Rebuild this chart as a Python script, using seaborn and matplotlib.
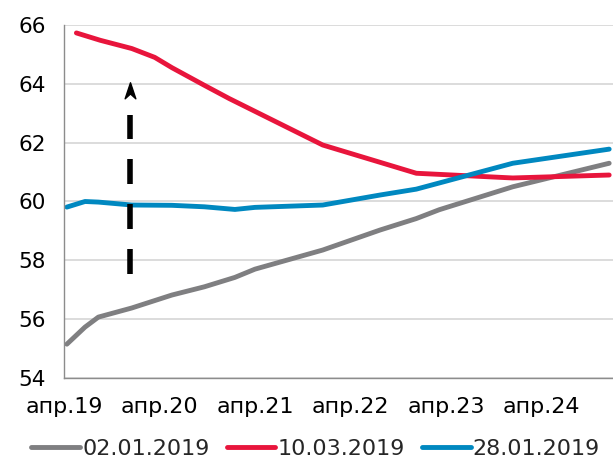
import numpy as np
import pandas as pd
import matplotlib
matplotlib.use("Agg")
import matplotlib.pyplot as plt
from matplotlib.path import Path
import seaborn as sns

# time axis in fractional years (apr.19 = 2019.25)
gray_x = [2019.28, 2019.47, 2019.61, 2019.96, 2020.38, 2020.72, 2021.04, 2021.25,
          2021.96, 2022.56, 2022.94, 2023.18, 2023.95, 2024.96]
gray_y = [55.15, 55.73, 56.07, 56.38, 56.82, 57.10, 57.42, 57.70,
          58.35, 59.03, 59.42, 59.72, 60.50, 61.30]

red_x = [2019.38, 2019.63, 2019.96, 2020.20, 2020.38, 2020.72, 2020.98,
         2021.96, 2022.94, 2023.95, 2024.96]
red_y = [65.73, 65.48, 65.20, 64.90, 64.55, 63.95, 63.50,
         61.92, 60.96, 60.80, 60.90]

blue_x = [2019.28, 2019.47, 2019.61, 2019.96, 2020.38, 2020.72, 2021.04, 2021.25,
          2021.96, 2022.56, 2022.94, 2023.95, 2024.96]
blue_y = [59.81, 60.00, 59.98, 59.88, 59.87, 59.82, 59.73, 59.80,
          59.88, 60.22, 60.42, 61.30, 61.78]

series_names = ["02.01.2019", "10.03.2019", "28.01.2019"]
series_colors = ["#7f7f81", "#e8153c", "#0088c0"]

tick_pos = [2019.25, 2020.25, 2021.25, 2022.25, 2023.25, 2024.25]
tick_labels = ["апр.19", "апр.20", "апр.21", "апр.22", "апр.23", "апр.24"]

# arrow: x position, dashed shaft from / to, head position
arrow_x = 2019.94
arrow_from = 57.55
arrow_to = 62.94
arrow_head = 63.72

frames = []
for name, xs, ys in zip(series_names, [gray_x, red_x, blue_x], [gray_y, red_y, blue_y]):
    frames.append(pd.DataFrame({"year": xs, "value": ys, "series": name}))
df = pd.concat(frames, ignore_index=True)

sns.set_style("white")
plt.rcParams["font.family"] = ["DejaVu Sans"]

fig = plt.figure(figsize=(6.13, 4.63), dpi=100)
ax = fig.add_axes([0.1044, 0.1836, 0.8956, 0.7624])

sns.lineplot(data=df, x="year", y="value", hue="series", hue_order=series_names,
             palette=series_colors, linewidth=3.5, estimator=None, sort=True,
             solid_capstyle="round", ax=ax)

# dashed arrow
ax.plot([arrow_x, arrow_x], [arrow_from, arrow_to], color="black", lw=4,
        dashes=(4.5, 3.6), solid_capstyle="butt")
head = Path([(0, 1.0), (0.55, -0.65), (0, -0.15), (-0.55, -0.65), (0, 1.0)],
            [Path.MOVETO, Path.LINETO, Path.LINETO, Path.LINETO, Path.CLOSEPOLY])
ax.plot([arrow_x], [arrow_head], marker=head, markersize=14, color="black", lw=0)

ax.set_xlim(2019.25, 2025.0)
ax.set_ylim(54, 66)
ax.set_yticks(range(54, 67, 2))
ax.set_xticks(tick_pos)
ax.set_xticklabels(tick_labels)
ax.set_xlabel("")
ax.set_ylabel("")

ax.grid(axis="y", color="#d9d9d9", lw=1.3)
ax.set_axisbelow(True)
for s in ["top", "right"]:
    ax.spines[s].set_visible(False)
for s in ["left", "bottom"]:
    ax.spines[s].set_color("#8c8c8c")
    ax.spines[s].set_linewidth(1.0)
ax.tick_params(axis="both", which="both", direction="out", length=5, width=1,
               color="#8c8c8c", labelsize=15.5, labelcolor="black")
ax.tick_params(axis="x", labelsize=16, pad=9)
ax.tick_params(axis="y", pad=8)

handles, labels = ax.get_legend_handles_labels()
ax.get_legend().remove()
fig.legend(handles[:3], labels[:3], loc="lower center", bbox_to_anchor=(0.515, -0.035),
           ncol=3, frameon=False, fontsize=16, handlelength=2.2,
           handletextpad=0.1, columnspacing=0.75)

fig.savefig("out.png", dpi=100)
